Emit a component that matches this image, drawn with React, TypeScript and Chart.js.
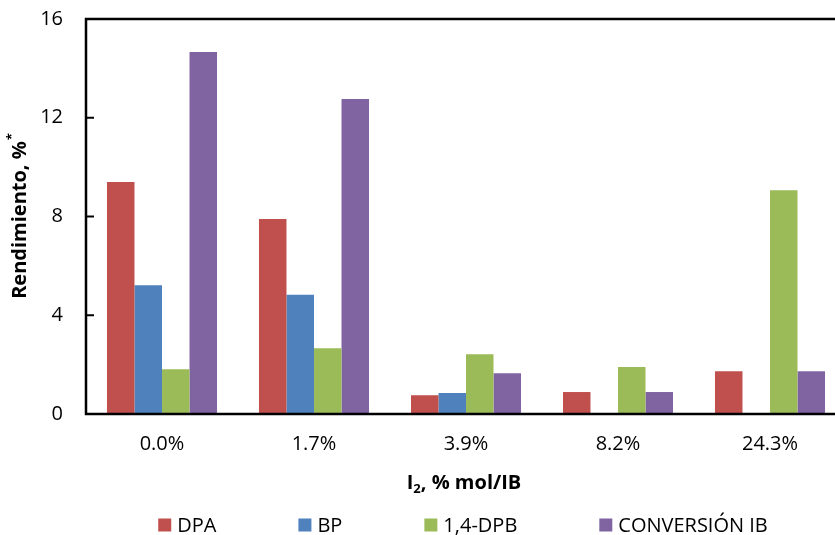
import React, { useEffect, useRef } from "react";
import { Chart, registerables } from "chart.js";

Chart.register(...registerables);

const categories = ["0.0%", "1.7%", "3.9%", "8.2%", "24.3%"];
const seriesNames = ["DPA", "BP", "1,4-DPB", "CONVERSIÓN IB"];
const dpaValues = [9.4, 7.9, 0.76, 0.89, 1.73];
const bpValues = [5.22, 4.83, 0.85, 0, 0];
const dpbValues = [1.81, 2.66, 2.42, 1.9, 9.06];
const conversionValues = [14.66, 12.76, 1.65, 0.89, 1.73];
const seriesColors = ["#C0504D", "#4F81BD", "#9BBB59", "#8064A2"];
const yMin = 0;
const yMax = 16;
const yStep = 4;
const yTitleMain = "Rendimiento, %";
const yTitleSup = "*";
const xTitleParts = ["I", "2", ", % mol/IB"];

const FONT = "'Open Sans', 'Noto Sans', sans-serif";

const overlayPlugin = {
  id: "overlay",
  afterDraw(chart: any) {
    const { ctx, chartArea: a, scales } = chart;
    ctx.save();
    // frame
    ctx.strokeStyle = "#000";
    ctx.lineWidth = 2.5;
    ctx.strokeRect(a.left, a.top, a.right - a.left, a.bottom - a.top);
    // inward y ticks
    ctx.lineWidth = 2;
    scales.y.ticks.forEach((t: any) => {
      const y = scales.y.getPixelForValue(t.value);
      ctx.beginPath();
      ctx.moveTo(a.left, y);
      ctx.lineTo(a.left + 8, y);
      ctx.stroke();
    });
    ctx.fillStyle = "#000";
    // y title
    ctx.save();
    ctx.translate(20, (a.top + a.bottom) / 2);
    ctx.rotate(-Math.PI / 2);
    ctx.textBaseline = "middle";
    ctx.textAlign = "left";
    ctx.font = `bold 20px ${FONT}`;
    const w1 = ctx.measureText(yTitleMain).width;
    ctx.font = `bold 13px ${FONT}`;
    const w2 = ctx.measureText(yTitleSup).width;
    const sx = -(w1 + w2) / 2;
    ctx.font = `bold 20px ${FONT}`;
    ctx.fillText(yTitleMain, sx, 0);
    ctx.font = `bold 13px ${FONT}`;
    ctx.fillText(yTitleSup, sx + w1 + 1, -8);
    ctx.restore();
    // x title
    ctx.textBaseline = "alphabetic";
    ctx.textAlign = "left";
    ctx.font = `bold 20px ${FONT}`;
    const p0 = ctx.measureText(xTitleParts[0]).width;
    const p2 = ctx.measureText(xTitleParts[2]).width;
    ctx.font = `bold 13px ${FONT}`;
    const p1 = ctx.measureText(xTitleParts[1]).width;
    const cx = 464;
    let x = cx - (p0 + p1 + p2) / 2;
    const base = 489;
    ctx.font = `bold 20px ${FONT}`;
    ctx.fillText(xTitleParts[0], x, base);
    x += p0;
    ctx.font = `bold 13px ${FONT}`;
    ctx.fillText(xTitleParts[1], x, base + 4);
    x += p1;
    ctx.font = `bold 20px ${FONT}`;
    ctx.fillText(xTitleParts[2], x, base);
    // legend
    ctx.font = `20px ${FONT}`;
    ctx.textBaseline = "middle";
    const box = 13;
    const boxGap = 6;
    const itemGap = 82;
    const widths = seriesNames.map((n) => box + boxGap + ctx.measureText(n).width);
    const total = widths.reduce((s, w) => s + w, 0) + itemGap * (seriesNames.length - 1);
    let lx = 463 - total / 2;
    const ly = 525;
    seriesNames.forEach((n, i) => {
      ctx.fillStyle = seriesColors[i];
      ctx.fillRect(lx, ly - box / 2, box, box);
      ctx.fillStyle = "#000";
      ctx.fillText(n, lx + box + boxGap, ly + 1);
      lx += widths[i] + itemGap;
    });
    ctx.restore();
  },
};

export default function App() {
  const ref = useRef<HTMLCanvasElement>(null);
  useEffect(() => {
    if (!ref.current) return;
    const allValues = [dpaValues, bpValues, dpbValues, conversionValues];
    const chart = new Chart(ref.current, {
      type: "bar",
      data: {
        labels: categories,
        datasets: seriesNames.map((name, i) => ({
          label: name,
          data: allValues[i],
          backgroundColor: seriesColors[i],
          borderWidth: 0,
          categoryPercentage: 0.724,
          barPercentage: 1.0,
        })),
      },
      options: {
        responsive: false,
        maintainAspectRatio: false,
        animation: false,
        devicePixelRatio: 1,
        layout: { padding: { left: 0, top: 19, right: 0, bottom: 0 } },
        plugins: {
          legend: { display: false },
          title: { display: false },
          tooltip: { enabled: false },
        },
        scales: {
          x: {
            grid: { display: false, drawTicks: false },
            border: { display: false },
            ticks: {
              color: "#000",
              font: { family: FONT, size: 20 },
              padding: 18,
              maxRotation: 0,
            },
            afterFit: (s: any) => {
              s.height = 121;
              s.paddingLeft = 0;
              s.paddingRight = 0;
            },
          },
          y: {
            min: yMin,
            max: yMax,
            grid: { display: false, drawTicks: false },
            border: { display: false },
            ticks: {
              stepSize: yStep,
              color: "#000",
              font: { family: FONT, size: 20 },
              padding: 23,
            },
            afterFit: (s: any) => {
              s.width = 86;
              s.paddingTop = 0;
              s.paddingBottom = 0;
            },
          },
        },
      },
      plugins: [overlayPlugin],
    });
    return () => chart.destroy();
  }, []);
  return (
    <div
      style={{
        position: "fixed",
        left: 0,
        top: 0,
        width: 835,
        height: 535,
        overflow: "hidden",
        background: "#fff",
      }}
    >
      <canvas ref={ref} width={846} height={535} style={{ display: "block" }} />
    </div>
  );
}
